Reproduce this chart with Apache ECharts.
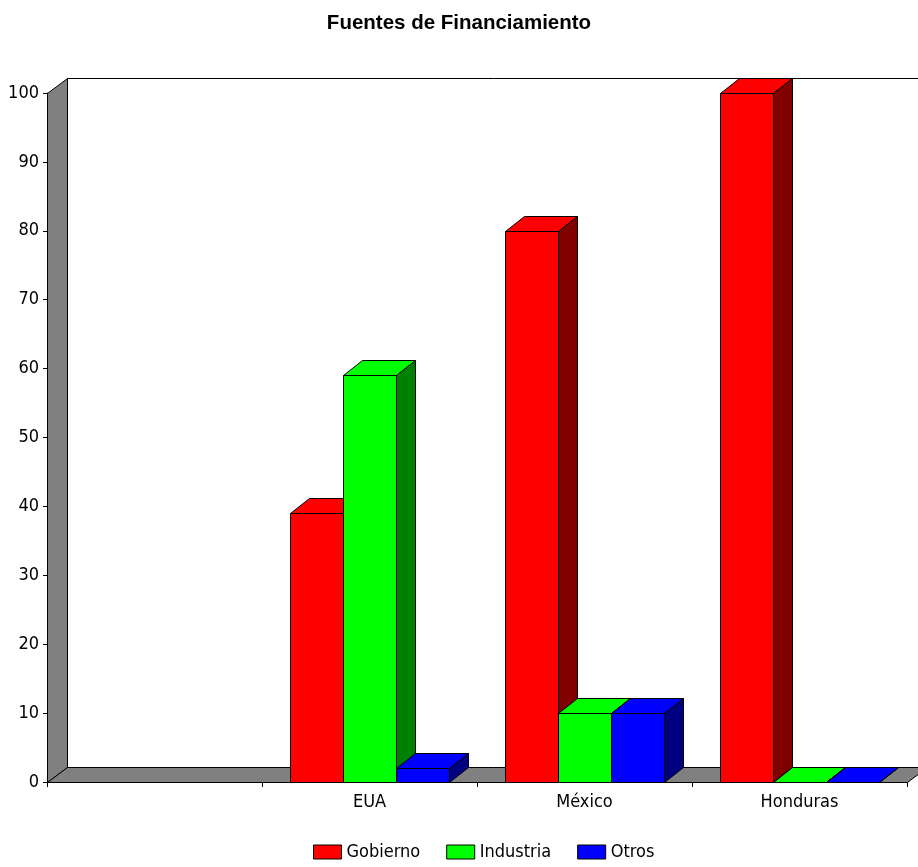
<!DOCTYPE html>
<html>
<head>
<meta charset="utf-8">
<title>Fuentes de Financiamiento</title>
<script src="https://cdn.jsdelivr.net/npm/echarts@6/dist/echarts.min.js"></script>
<style>
  html, body { margin: 0; padding: 0; background: #ffffff; }
  #chart { width: 918px; height: 867px; }
</style>
</head>
<body>
<div id="chart"></div>
<script>
// ---- data ----
const categories = ['', 'EUA', 'México', 'Honduras'];
const seriesNames = ['Gobierno', 'Industria', 'Otros'];
const gobierno = [null, 39, 80, 100];
const industria = [null, 59, 10, 0];
const otros = [null, 2, 10, 0];
const yMin = 0;
const yMax = 100;
const yStep = 10;

// ---- styling ----
const frontColors = ['#ff0000', '#00ff00', '#0000ff'];
const sideColors = ['#800000', '#008000', '#000080'];
const wallColor = '#808080';
const narrowFont = "'DejaVu Sans Condensed', 'Liberation Sans Narrow', 'Liberation Sans', Arial, sans-serif";
const labelSize = 18;
const BAR_RATIO = 0.2465;   // bar width as a share of the category band
const DX = 19, DY = 15;     // depth offset of the bars
const WDX = 20, WDY = 15;   // depth offset of the wall and floor

const px = v => Math.round(v) + 0.5;
const edge = { stroke: '#000000', lineWidth: 1 };

// gray side wall, white back wall and gray floor
function renderFrame(params, api) {
  const cs = params.coordSys;
  const xl = px(cs.x), xr = px(cs.x + cs.width);
  const yt = px(cs.y), yb = px(cs.y + cs.height);
  const farRight = api.getWidth() + 40;
  return {
    type: 'group',
    children: [
      { type: 'polygon', shape: { points: [[xl + WDX, yt - WDY], [farRight, yt - WDY], [farRight, yb - WDY], [xl + WDX, yb - WDY]] },
        style: { fill: '#ffffff', stroke: null } },
      { type: 'polyline', shape: { points: [[xl + WDX, yb - WDY], [xl + WDX, yt - WDY], [farRight, yt - WDY]] },
        style: { fill: null, stroke: '#000000', lineWidth: 1 } },
      { type: 'polygon', shape: { points: [[xl, yb], [xl, yt], [xl + WDX, yt - WDY], [xl + WDX, yb - WDY]] },
        style: Object.assign({ fill: wallColor }, edge) },
      { type: 'polygon', shape: { points: [[xl, yb], [xr, yb], [xr + WDX, yb - WDY], [xl + WDX, yb - WDY]] },
        style: Object.assign({ fill: wallColor }, edge) }
    ]
  };
}

// a shaded box for each value: front face, top face and right side face
function barRenderer(idx) {
  return function (params, api) {
    const v = api.value(1);
    if (v === null || isNaN(v)) return;
    const cat = api.value(0);
    const top = api.coord([cat, v]);
    const base = api.coord([cat, 0]);
    const w = api.size([1, 0])[0] * BAR_RATIO;
    const x0 = px(top[0] - 1.5 * w + idx * w);
    const x1 = px(top[0] - 1.5 * w + (idx + 1) * w);
    const yT = px(top[1]), yB = px(base[1]);
    return {
      type: 'group',
      children: [
        { type: 'polygon', shape: { points: [[x0, yB], [x0, yT], [x1, yT], [x1, yB]] },
          style: Object.assign({ fill: frontColors[idx] }, edge) },
        { type: 'polygon', shape: { points: [[x0, yT], [x0 + DX, yT - DY], [x1 + DX, yT - DY], [x1, yT]] },
          style: Object.assign({ fill: frontColors[idx] }, edge) },
        { type: 'polygon', shape: { points: [[x1, yT], [x1 + DX, yT - DY], [x1 + DX, yB - DY], [x1, yB]] },
          style: Object.assign({ fill: sideColors[idx] }, edge) }
      ]
    };
  };
}

const valueLists = [gobierno, industria, otros];
const toData = list => list.map((v, i) => [i, v === null ? '-' : v]);

const chart = echarts.init(document.getElementById('chart'), null, { renderer: 'canvas' });
chart.setOption({
  animation: false,
  backgroundColor: '#ffffff',
  title: {
    text: 'Fuentes de Financiamiento',
    left: 'center',
    top: 8,
    textStyle: { fontFamily: "'Liberation Sans', Arial, sans-serif", fontWeight: 'bold', fontSize: 20.5, color: '#000000' }
  },
  legend: {
    data: seriesNames,
    left: 313,
    top: 843,
    padding: 0,
    icon: 'rect',
    itemWidth: 28,
    itemHeight: 14,
    itemGap: 26,
    itemStyle: { borderColor: '#000000', borderWidth: 1 },
    textStyle: { fontFamily: narrowFont, fontSize: labelSize, color: '#000000' }
  },
  grid: { left: 47, right: 11, top: 93, bottom: 85, containLabel: false },
  xAxis: {
    type: 'category',
    data: categories,
    boundaryGap: true,
    axisLine: { lineStyle: { color: '#000000', width: 1 } },
    axisTick: { show: true, length: 5, alignWithLabel: false, interval: 0, lineStyle: { color: '#000000' } },
    axisLabel: { interval: 0, margin: 11, fontFamily: narrowFont, fontSize: labelSize, color: '#000000' },
    splitLine: { show: false }
  },
  yAxis: {
    type: 'value',
    min: yMin,
    max: yMax,
    interval: yStep,
    axisLine: { show: true, lineStyle: { color: '#000000', width: 1 } },
    axisTick: { show: true, length: 4, lineStyle: { color: '#000000' } },
    axisLabel: { margin: 8, fontFamily: narrowFont, fontSize: labelSize, color: '#000000' },
    splitLine: { show: false }
  },
  series: [
    {
      type: 'custom',
      name: 'frame',
      silent: true,
      z: 1,
      renderItem: renderFrame,
      data: [[0, 0]],
      encode: { x: 0, y: 1 }
    }
  ].concat(seriesNames.map((name, idx) => ({
    type: 'custom',
    name: name,
    z: 2,
    itemStyle: { color: frontColors[idx] },
    renderItem: barRenderer(idx),
    encode: { x: 0, y: 1 },
    data: toData(valueLists[idx])
  })))
});
</script>
</body>
</html>
